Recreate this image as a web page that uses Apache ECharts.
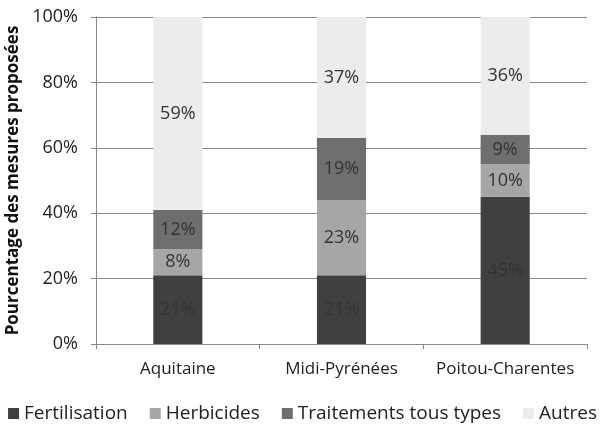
<!DOCTYPE html>
<html>
<head>
<meta charset="utf-8">
<script src="https://cdn.jsdelivr.net/npm/echarts@6/dist/echarts.min.js"></script>
<style>
  html, body { margin: 0; padding: 0; background: #fff; }
  #chart { width: 605px; height: 430px; }
</style>
</head>
<body>
<div id="chart"></div>
<script>
const regions = ['Aquitaine', 'Midi-Pyrénées', 'Poitou-Charentes']
const fertilisation = [21, 21, 45]
const herbicides = [8, 23, 10]
const traitements = [12, 19, 9]
const autres = [59, 37, 36]
const yTicks = [0, 20, 40, 60, 80, 100]

const font = '"Open Sans", "DejaVu Sans", sans-serif'

function serie(name, data, color) {
  return {
    name,
    type: 'bar',
    stack: 'total',
    barWidth: '30%',
    data,
    itemStyle: { color },
    label: {
      show: true,
      position: 'inside',
      formatter: '{c}%',
      color: '#333',
      fontFamily: font,
      fontSize: 18
    }
  }
}

const chart = echarts.init(document.getElementById('chart'))
chart.setOption({
  animation: false,
  textStyle: { fontFamily: font },
  grid: { left: 96, right: 18, top: 17, bottom: 86, containLabel: false, outerBoundsMode: 'none' },
  legend: {
    bottom: 2,
    left: 'center',
    itemWidth: 11,
    itemHeight: 11,
    itemGap: 22,
    icon: 'rect',
    textStyle: { fontSize: 19, color: '#222', fontFamily: font },
    data: ['Fertilisation', 'Herbicides', 'Traitements tous types', 'Autres']
  },
  xAxis: {
    type: 'category',
    data: regions,
    axisLine: { lineStyle: { color: '#888' } },
    axisTick: { show: true, length: 5, lineStyle: { color: '#888' } },
    axisLabel: { color: '#222', fontSize: 17, margin: 17, interval: 0, hideOverlap: false }
  },
  yAxis: {
    type: 'value',
    min: yTicks[0],
    max: yTicks[yTicks.length - 1],
    interval: 20,
    name: 'Pourcentage des mesures proposées',
    nameLocation: 'middle',
    nameGap: 74,
    nameTextStyle: { fontSize: 17, fontWeight: 'bold', color: '#111' },
    axisLine: { show: true, lineStyle: { color: '#888' } },
    axisTick: { show: true, length: 5, lineStyle: { color: '#888' } },
    axisLabel: { formatter: '{value}%', color: '#222', fontSize: 18, margin: 18 },
    splitLine: { lineStyle: { color: '#888' } }
  },
  series: [
    serie('Fertilisation', fertilisation, '#404040'),
    serie('Herbicides', herbicides, '#a6a6a6'),
    serie('Traitements tous types', traitements, '#6e6e6e'),
    serie('Autres', autres, '#ececec')
  ]
})
</script>
</body>
</html>
